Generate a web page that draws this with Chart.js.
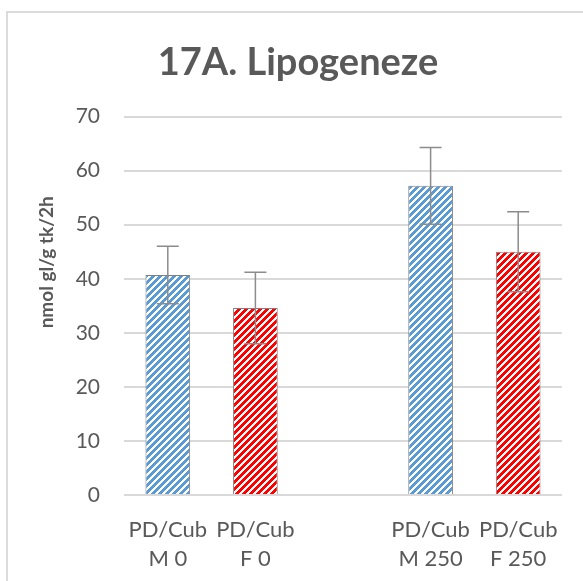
<!DOCTYPE html>
<html>
<head>
<meta charset="utf-8">
<script src="https://cdn.jsdelivr.net/npm/chart.js@4"></script>
<style>
  html, body { margin: 0; padding: 0; background: #fff; }
  #frame { position: absolute; left: 6px; top: 11px; width: 620px; height: 620px; border: 2px solid #dcdcdc; }
  #wrap { position: absolute; left: 0; top: 0; width: 583px; height: 581px; }
</style>
</head>
<body>
<div id="frame"></div>
<div id="wrap"><canvas id="chart"></canvas></div>
<script>
// data
const categories = [['PD/Cub', 'M 0'], ['PD/Cub', 'F 0'], '', ['PD/Cub', 'M 250'], ['PD/Cub', 'F 250']];
const means = [40.7, 34.6, null, 57.2, 45.0];
const errors = [5.3, 6.6, null, 7.1, 7.4];
const barColors = ['#5b9bd5', '#ff0000', '#ffffff', '#5b9bd5', '#ff0000'];
const yMin = 0, yMax = 70, yStep = 10;
const yTitle = 'nmol gl/g tk/2h';

const textColor = '#595959';
const fontFamily = 'Lato, "Open Sans", sans-serif';

// diagonal stripe fill, like Excel's "wide upward diagonal"
function stripes(color) {
    const n = 7;
    const c = document.createElement('canvas');
    c.width = n; c.height = n;
    const cx = c.getContext('2d');
    cx.fillStyle = '#ffffff';
    cx.fillRect(0, 0, n, n);
    cx.fillStyle = color;
    for (let y = 0; y < n; y++) {
        for (let x = 0; x < n; x++) {
            if ((x + y) % n < 4) cx.fillRect(x, y, 1, 1);
        }
    }
    return cx.createPattern(c, 'repeat');
}

const errorBars = {
    id: 'errorBars',
    afterDatasetsDraw(chart) {
        const ctx = chart.ctx;
        const yScale = chart.scales.y;
        const meta = chart.getDatasetMeta(0);
        ctx.save();
        ctx.strokeStyle = '#8c8c8c';
        ctx.lineWidth = 1.5;
        meta.data.forEach(function(bar, i) {
            if (means[i] == null) return;
            const x = bar.x;
            const top = yScale.getPixelForValue(means[i] + errors[i]);
            const bot = yScale.getPixelForValue(means[i] - errors[i]);
            ctx.beginPath();
            ctx.moveTo(x, top); ctx.lineTo(x, bot);
            ctx.moveTo(x - 11, top); ctx.lineTo(x + 11, top);
            ctx.moveTo(x - 11, bot); ctx.lineTo(x + 11, bot);
            ctx.stroke();
        });
        ctx.restore();
    }
};

// axis title sits a bit above the middle of the plot in the original
const axisTitle = {
    id: 'axisTitle',
    afterDraw(chart) {
        const ctx = chart.ctx;
        const area = chart.chartArea;
        ctx.save();
        ctx.translate(47, area.top + (area.bottom - area.top) * 0.385);
        ctx.rotate(-Math.PI / 2);
        ctx.fillStyle = textColor;
        ctx.font = 'bold 19px ' + fontFamily;
        ctx.textAlign = 'center';
        ctx.textBaseline = 'middle';
        ctx.fillText(yTitle, 0, 0);
        ctx.restore();
    }
};

document.addEventListener('DOMContentLoaded', function() {
    const ctx = document.getElementById('chart').getContext('2d');

    new Chart(ctx, {
        type: 'bar',
        data: {
            labels: categories,
            datasets: [{
                data: means,
                backgroundColor: barColors.map(stripes),
                borderColor: '#7f7f7f',
                borderWidth: 1,
                categoryPercentage: 1,
                barPercentage: 0.51
            }]
        },
        options: {
            responsive: true,
            maintainAspectRatio: false,
            animation: false,
            layout: { padding: { left: 34, right: 21, top: 0, bottom: 0 } },
            plugins: {
                legend: { display: false },
                tooltip: { enabled: false },
                title: {
                    display: true,
                    text: '17A. Lipogeneze',
                    color: textColor,
                    font: { family: fontFamily, size: 38, weight: 'bold' },
                    padding: { top: 40, bottom: 31 }
                }
            },
            scales: {
                x: {
                    grid: { display: false },
                    border: { display: false },
                    ticks: {
                        color: textColor,
                        padding: 12,
                        maxRotation: 0,
                        autoSkip: false,
                        font: { family: fontFamily, size: 22, lineHeight: 1.32 }
                    },
                    afterFit: function(scale) { scale.height = 86; }
                },
                y: {
                    min: yMin,
                    max: yMax,
                    grid: { color: '#d9d9d9', lineWidth: 2, drawTicks: false },
                    border: { display: false },
                    ticks: {
                        stepSize: yStep,
                        color: textColor,
                        padding: 24,
                        font: { family: fontFamily, size: 21 }
                    },
                    afterFit: function(scale) { scale.width = 90; }
                }
            }
        },
        plugins: [errorBars, axisTitle]
    });
});
</script>
</body>
</html>
